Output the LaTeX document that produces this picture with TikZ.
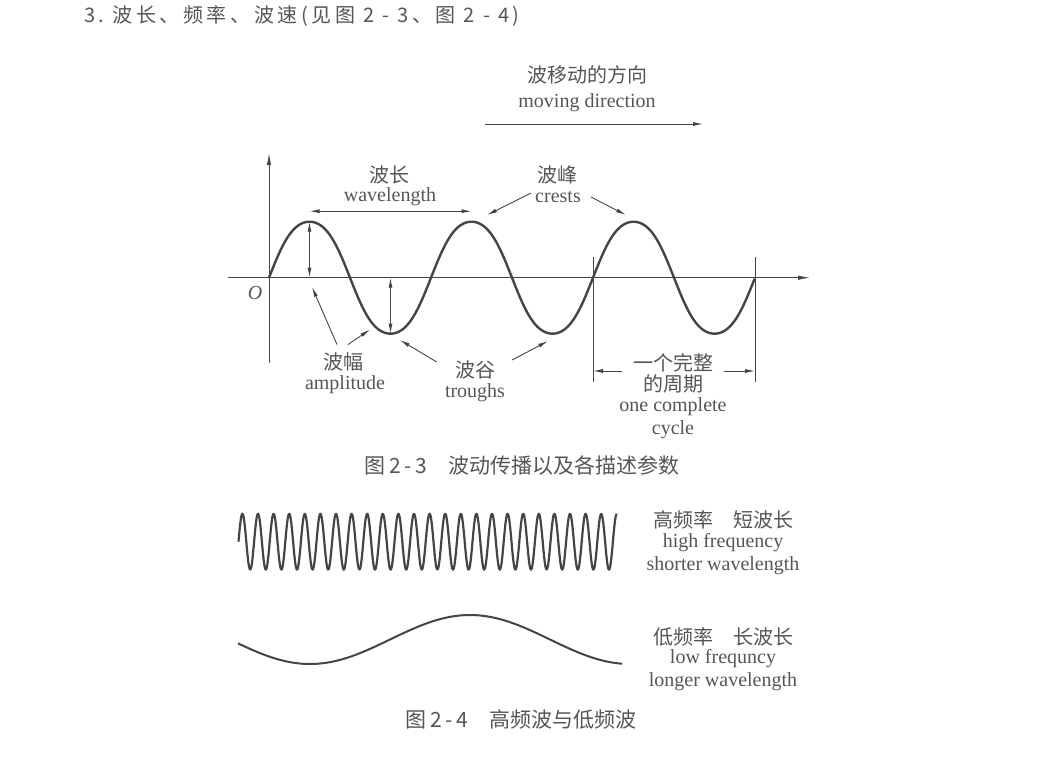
\documentclass[tikz,border=0pt]{standalone}
\usepackage{fontspec}
\setmainfont{Liberation Serif}
\newfontfamily\cjk{Noto Sans CJK SC}
\newfontfamily\cjkwide[LetterSpace=18]{Noto Sans CJK SC}
\usetikzlibrary{arrows.meta}
\definecolor{ink}{HTML}{454545}
\definecolor{txt}{HTML}{555555}
\begin{document}
\begin{tikzpicture}[x=1pt,y=-1pt,
  lbl/.style={text=txt,inner sep=1pt,font=\fontsize{20}{22}\selectfont},
  zh/.style={lbl,font=\cjk\fontsize{20}{22}\selectfont},
  figcap/.style={lbl,font=\cjk\fontsize{21}{24}\selectfont},
  wave/.style={ink,line width=2.4pt,line join=round},
  axis/.style={-{Latex[length=12pt,width=4.5pt]},ink,line width=1pt},
  pointer/.style={-{Latex[length=10pt,width=4pt]},ink,line width=0.9pt},
  dbl/.style={{Latex[length=10pt,width=4pt]}-{Latex[length=10pt,width=4pt]},ink,line width=0.9pt},
  tick/.style={ink,line width=0.9pt}]
\useasboundingbox (0,0) rectangle (1040,758);
\node[lbl,font=\cjkwide\fontsize{20}{22}\selectfont,anchor=west] (head) at (83,16) {3.\ 波长、频率、波速(见图\ 2\ -\ 3、图\ 2\ -\ 4)};
\node[zh] (movezh) at (587,75) {波移动的方向};
\node[lbl] (move) at (587,103) {moving direction};
\coordinate (mvA) at (485,124);
\coordinate (mvB) at (703,124);
\draw[pointer] (mvA) -- (mvB);
\coordinate (O) at (269,277.7);
\coordinate (xL) at (228,277.7);
\coordinate (xR) at (810,277.7);
\coordinate (yB) at (269,363);
\coordinate (yT) at (269,153);
\draw[axis] (xL) -- (xR);
\draw[axis] (yB) -- (yT);
\node[lbl] (o) at (255,293) {\textit{O}};
\draw[wave] plot[domain=0:3,samples=240,smooth] ({269+162*\x},{277.7-56*(sin(360*\x)+0.04*sin(1080*\x))/0.96});
\coordinate (c1) at (309.5,221.7);
\coordinate (t1) at (390.5,333.7);
\coordinate (c2) at (471.5,221.7);
\coordinate (a1) at (309.5,277.7);
\coordinate (a2) at (390.5,277.7);
\coordinate (z3) at (593,277.7);
\coordinate (z4) at (755,277.7);
\draw[dbl] (a1) -- (c1);
\draw[dbl] (a2) -- (t1);
\draw[dbl] ([yshift=10.5pt]c1) -- ([yshift=10.5pt]c2);
\node[zh] (wlzh) at (389,175) {波长};
\node[lbl] (wl) at (390,197) {wavelength};
\node[zh] (crestzh) at (557,175) {波峰};
\node[lbl] (crest) at (558,197) {crests};
\coordinate (cp1) at (487,215);
\coordinate (cp2) at (626,215);
\draw[pointer] ([shift={(-3,-4)}]crest.west) -- (cp1);
\draw[pointer] ([xshift=9pt]crest.east) -- (cp2);
\node[zh] (ampzh) at (343,362) {波幅};
\node[lbl] (amp) at (345,385) {amplitude};
\coordinate (ap1) at (312,287);
\coordinate (ap2) at (370,329.5);
\draw[pointer] ([shift={(-6,-7)}]ampzh.north) -- (ap1);
\draw[pointer] ([shift={(5,-7)}]ampzh.north) -- (ap2);
\node[zh] (trzh) at (475,370) {波谷};
\node[lbl] (tr) at (475,393) {troughs};
\coordinate (tp1) at (400,340);
\coordinate (tp2) at (548,341);
\draw[pointer] ([shift={(-17,-8)}]trzh.west) -- (tp1);
\draw[pointer] ([shift={(16,-10)}]trzh.east) -- (tp2);
\draw[tick] ([yshift=20.7pt]z3) -- ([yshift=-104.3pt]z3);
\draw[tick] ([yshift=20.7pt]z4) -- ([yshift=-104.3pt]z4);
\node[zh] (cyczh) at (673,363) {一个完整};
\node[zh] (cyc2zh) at (673,384) {的周期};
\node[lbl] (cyc) at (673,407) {one complete};
\node[lbl] (cyc2) at (673,430) {cycle};
\coordinate (cyA) at (593,371);
\coordinate (cyB) at (755,371);
\draw[pointer,shorten <=10pt] (cyczh.west |- cyA) -- (cyA);
\draw[pointer,shorten <=10pt] (cyczh.east |- cyB) -- (cyB);
\node[figcap] (cap1) at (522,465) {图\,2\,-\,3\quad 波动传播以及各描述参数};
\draw[wave,line width=2.2pt] plot[domain=0:24.25,samples=500,smooth] ({238.5+15.6*\x},{541.7-28*sin(360*\x)});
\draw[wave,line width=2pt] plot[domain=238:622,samples=120,smooth] ({\x},{639.5-24.5*cos(1.125*(\x-470))});
\node[zh] (hizh) at (723,520) {高频率\quad 短波长};
\node[lbl] (hi) at (723,543) {high frequency};
\node[lbl] (hi2) at (723,566) {shorter wavelength};
\node[zh] (lozh) at (723,637) {低频率\quad 长波长};
\node[lbl] (lo) at (723,659) {low frequncy};
\node[lbl] (lo2) at (723,682) {longer wavelength};
\node[figcap] (cap2) at (521,720) {图\,2\,-\,4\quad 高频波与低频波};
\end{tikzpicture}
\end{document}
